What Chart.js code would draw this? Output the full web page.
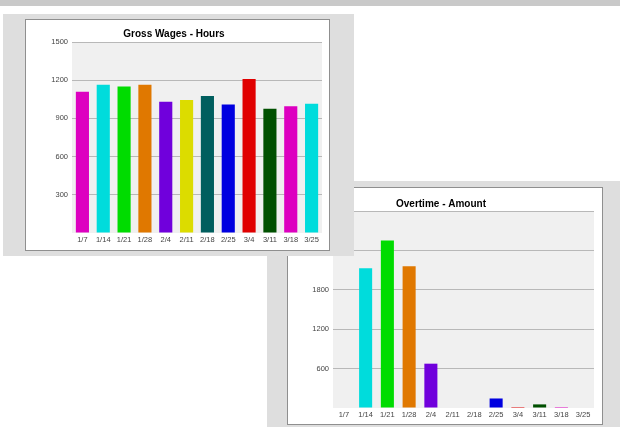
<!DOCTYPE html>
<html>
<head>
<meta charset="utf-8">
<script src="https://cdn.jsdelivr.net/npm/chart.js@4"></script>
<style>
  body { margin: 0; width: 620px; height: 427px; background: #fff; position: relative; overflow: hidden; }
  .band { position: absolute; left: 0; top: 0; width: 620px; height: 6px; background: #c9c9c9; }
  .panel { position: absolute; background: #dedede; }
  .box { position: absolute; background: #fff; border: 1px solid #8f8f8f; }
  .box canvas { display: block; }
</style>
</head>
<body>
<div class="band"></div>

<!-- overtime panel (sits under the wages panel) -->
<div class="panel" style="left:267px; top:181px; width:353px; height:246px;"></div>
<div class="box" style="left:287px; top:187px; width:314px; height:236px;">
  <canvas id="overtime" width="314" height="236"></canvas>
</div>

<!-- wages panel -->
<div class="panel" style="left:3px; top:14px; width:351px; height:242px;"></div>
<div class="box" style="left:25px; top:19px; width:303px; height:230px;">
  <canvas id="wages" width="303" height="230"></canvas>
</div>

<script>
// data
const weeks = ['1/7','1/14','1/21','1/28','2/4','2/11','2/18','2/25','3/4','3/11','3/18','3/25'];
const grossHours = [1110,1165,1150,1165,1030,1045,1075,1010,1210,975,995,1015];
const overtimeAmount = [0,2130,2550,2160,675,0,0,145,15,55,15,0];
const barColors = ['#dd00c0','#00dcdc','#00dc00','#e07800','#7000dc','#dcdc00','#005e5e','#0000e0','#e00000','#005000','#dd00c0','#00dcdc'];
const hoursMax = 1500, hoursStep = 300;
const overtimeMax = 3000, overtimeStep = 600;

Chart.defaults.font.family = '"Liberation Sans Narrow", "Liberation Sans", Arial, sans-serif';
Chart.defaults.color = '#444';

// light gray plot area
const plotBg = {
  id: 'plotBg',
  beforeDraw(chart) {
    const {ctx, chartArea: a} = chart;
    ctx.save();
    ctx.fillStyle = '#f0f0f0';
    ctx.fillRect(a.left, a.top, a.width, a.height);
    ctx.restore();
  }
};

function makeChart(id, title, values, max, step, opts) {
  return new Chart(document.getElementById(id), {
    type: 'bar',
    data: {
      labels: weeks,
      datasets: [{
        data: values,
        backgroundColor: barColors,
        barPercentage: opts.bar,
        categoryPercentage: 1,
      }]
    },
    options: {
      responsive: false,
      animation: false,
      layout: { padding: { left: 0, right: opts.right, top: 0, bottom: 0 } },
      plugins: {
        legend: { display: false },
        tooltip: { enabled: false },
        title: {
          display: true,
          text: title,
          color: '#000',
          font: { family: '"Liberation Sans", Arial, sans-serif', size: 10, weight: 'bold', lineHeight: 1.2 },
          padding: { top: opts.titleTop, bottom: opts.titleBottom }
        }
      },
      scales: {
        x: {
          grid: { display: false, drawTicks: false },
          border: { display: false },
          ticks: { font: { size: 7.5 }, padding: 2, maxRotation: 0, autoSkip: false, color: '#444' },
          afterFit(s) { s.height = opts.xh; }
        },
        y: {
          min: 0,
          max: max,
          border: { display: false },
          grid: {
            drawTicks: false,
            lineWidth: 1,
            color: (c) => c.tick && c.tick.value === 0 ? 'rgba(0,0,0,0)' : '#b8b8b8'
          },
          ticks: {
            stepSize: step,
            font: { size: 7.5 },
            padding: 4,
            color: '#444',
            callback: (v) => v === 0 ? '' : v
          },
          afterFit(s) { s.width = opts.yw; }
        }
      }
    },
    plugins: [plotBg]
  });
}

makeChart('overtime', 'Overtime - Amount', overtimeAmount, overtimeMax, overtimeStep,
  { bar: 0.6, right: 8, titleTop: 10, titleBottom: 1, xh: 16, yw: 45 });

makeChart('wages', 'Gross Wages - Hours', grossHours, hoursMax, hoursStep,
  { bar: 0.63, right: 7, titleTop: 8, titleBottom: 2, xh: 17, yw: 46 });
</script>
</body>
</html>
